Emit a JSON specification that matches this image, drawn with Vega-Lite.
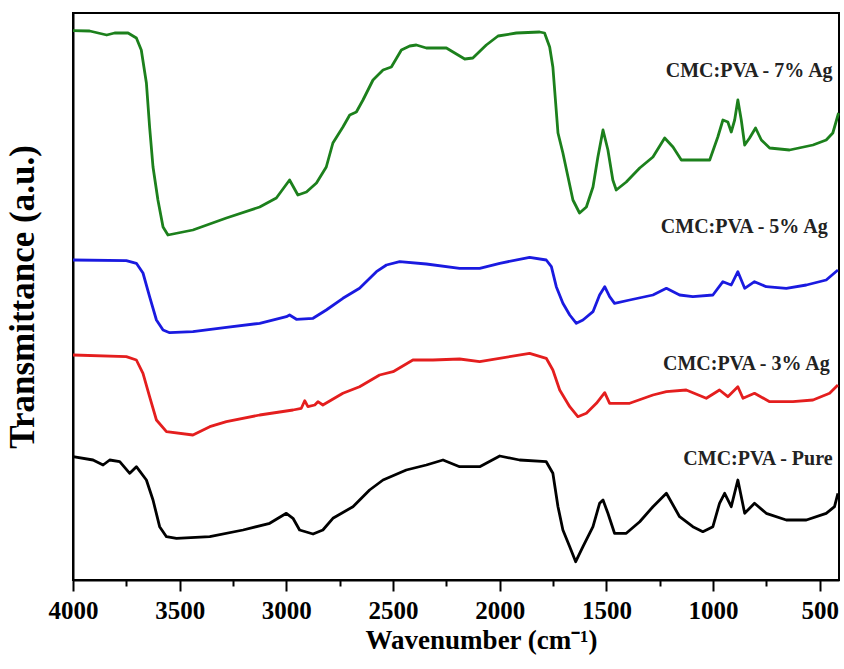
{
  "$schema": "https://vega.github.io/schema/vega-lite/v6.json",
  "autosize": "none",
  "width": 766,
  "height": 567,
  "padding": {"left": 73, "top": 13, "right": 5, "bottom": 89},
  "background": "white",
  "config": {
    "view": {"stroke": "black", "strokeWidth": 2},
    "font": "Liberation Serif"
  },
  "datasets": {
    "spectra": [
      {"s": "7% Ag", "wn": 4000, "t": 549.3}, {"s": "7% Ag", "wn": 3922, "t": 549}, {"s": "7% Ag", "wn": 3842, "t": 545}, {"s": "7% Ag", "wn": 3805, "t": 547}, {"s": "7% Ag", "wn": 3742, "t": 547}, {"s": "7% Ag", "wn": 3703, "t": 542}, {"s": "7% Ag", "wn": 3680, "t": 530}, {"s": "7% Ag", "wn": 3656, "t": 497}, {"s": "7% Ag", "wn": 3641, "t": 453}, {"s": "7% Ag", "wn": 3625, "t": 413}, {"s": "7% Ag", "wn": 3602, "t": 380}, {"s": "7% Ag", "wn": 3578, "t": 353}, {"s": "7% Ag", "wn": 3555, "t": 345}, {"s": "7% Ag", "wn": 3438, "t": 350}, {"s": "7% Ag", "wn": 3281, "t": 362}, {"s": "7% Ag", "wn": 3125, "t": 373}, {"s": "7% Ag", "wn": 3047, "t": 382}, {"s": "7% Ag", "wn": 2985, "t": 400}, {"s": "7% Ag", "wn": 2946, "t": 385}, {"s": "7% Ag", "wn": 2906, "t": 388}, {"s": "7% Ag", "wn": 2859, "t": 397}, {"s": "7% Ag", "wn": 2813, "t": 413}, {"s": "7% Ag", "wn": 2782, "t": 437}, {"s": "7% Ag", "wn": 2735, "t": 453}, {"s": "7% Ag", "wn": 2703, "t": 465}, {"s": "7% Ag", "wn": 2672, "t": 468}, {"s": "7% Ag", "wn": 2641, "t": 480}, {"s": "7% Ag", "wn": 2594, "t": 500}, {"s": "7% Ag", "wn": 2547, "t": 510}, {"s": "7% Ag", "wn": 2508, "t": 513}, {"s": "7% Ag", "wn": 2461, "t": 530}, {"s": "7% Ag", "wn": 2422, "t": 534}, {"s": "7% Ag", "wn": 2391, "t": 535}, {"s": "7% Ag", "wn": 2344, "t": 532}, {"s": "7% Ag", "wn": 2250, "t": 532}, {"s": "7% Ag", "wn": 2211, "t": 527}, {"s": "7% Ag", "wn": 2164, "t": 521}, {"s": "7% Ag", "wn": 2126, "t": 522}, {"s": "7% Ag", "wn": 2063, "t": 535}, {"s": "7% Ag", "wn": 2008, "t": 544}, {"s": "7% Ag", "wn": 1922, "t": 547}, {"s": "7% Ag", "wn": 1813, "t": 548}, {"s": "7% Ag", "wn": 1790, "t": 547}, {"s": "7% Ag", "wn": 1766, "t": 533}, {"s": "7% Ag", "wn": 1751, "t": 513}, {"s": "7% Ag", "wn": 1727, "t": 447}, {"s": "7% Ag", "wn": 1704, "t": 427}, {"s": "7% Ag", "wn": 1680, "t": 403}, {"s": "7% Ag", "wn": 1657, "t": 380}, {"s": "7% Ag", "wn": 1626, "t": 367}, {"s": "7% Ag", "wn": 1594, "t": 373}, {"s": "7% Ag", "wn": 1563, "t": 393}, {"s": "7% Ag", "wn": 1540, "t": 423}, {"s": "7% Ag", "wn": 1516, "t": 450}, {"s": "7% Ag", "wn": 1493, "t": 430}, {"s": "7% Ag", "wn": 1470, "t": 400}, {"s": "7% Ag", "wn": 1454, "t": 390}, {"s": "7% Ag", "wn": 1407, "t": 398}, {"s": "7% Ag", "wn": 1344, "t": 412}, {"s": "7% Ag", "wn": 1282, "t": 423}, {"s": "7% Ag", "wn": 1227, "t": 442}, {"s": "7% Ag", "wn": 1188, "t": 433}, {"s": "7% Ag", "wn": 1149, "t": 420}, {"s": "7% Ag", "wn": 1016, "t": 420}, {"s": "7% Ag", "wn": 978, "t": 443}, {"s": "7% Ag", "wn": 954, "t": 460}, {"s": "7% Ag", "wn": 931, "t": 458}, {"s": "7% Ag", "wn": 915, "t": 448}, {"s": "7% Ag", "wn": 899, "t": 460}, {"s": "7% Ag", "wn": 884, "t": 480}, {"s": "7% Ag", "wn": 868, "t": 460}, {"s": "7% Ag", "wn": 852, "t": 435}, {"s": "7% Ag", "wn": 829, "t": 442}, {"s": "7% Ag", "wn": 801, "t": 452}, {"s": "7% Ag", "wn": 774, "t": 440}, {"s": "7% Ag", "wn": 735, "t": 432}, {"s": "7% Ag", "wn": 642, "t": 430}, {"s": "7% Ag", "wn": 532, "t": 435}, {"s": "7% Ag", "wn": 470, "t": 440}, {"s": "7% Ag", "wn": 439, "t": 447}, {"s": "7% Ag", "wn": 412, "t": 467},

      {"s": "5% Ag", "wn": 4000, "t": 320}, {"s": "5% Ag", "wn": 3750, "t": 319.3}, {"s": "5% Ag", "wn": 3703, "t": 316.7}, {"s": "5% Ag", "wn": 3672, "t": 307}, {"s": "5% Ag", "wn": 3641, "t": 283.3}, {"s": "5% Ag", "wn": 3609, "t": 260}, {"s": "5% Ag", "wn": 3578, "t": 250}, {"s": "5% Ag", "wn": 3547, "t": 247.3}, {"s": "5% Ag", "wn": 3438, "t": 248.3}, {"s": "5% Ag", "wn": 3281, "t": 252.7}, {"s": "5% Ag", "wn": 3125, "t": 256.7}, {"s": "5% Ag", "wn": 3000, "t": 263.3}, {"s": "5% Ag", "wn": 2985, "t": 265}, {"s": "5% Ag", "wn": 2953, "t": 260.7}, {"s": "5% Ag", "wn": 2875, "t": 261.7}, {"s": "5% Ag", "wn": 2813, "t": 270}, {"s": "5% Ag", "wn": 2735, "t": 281.7}, {"s": "5% Ag", "wn": 2657, "t": 291.7}, {"s": "5% Ag", "wn": 2578, "t": 308.3}, {"s": "5% Ag", "wn": 2531, "t": 315}, {"s": "5% Ag", "wn": 2469, "t": 318.3}, {"s": "5% Ag", "wn": 2344, "t": 316}, {"s": "5% Ag", "wn": 2188, "t": 311.7}, {"s": "5% Ag", "wn": 2094, "t": 311.7}, {"s": "5% Ag", "wn": 2000, "t": 316.7}, {"s": "5% Ag", "wn": 1860, "t": 322.7}, {"s": "5% Ag", "wn": 1782, "t": 320}, {"s": "5% Ag", "wn": 1758, "t": 313.3}, {"s": "5% Ag", "wn": 1735, "t": 293.3}, {"s": "5% Ag", "wn": 1704, "t": 276.7}, {"s": "5% Ag", "wn": 1672, "t": 265}, {"s": "5% Ag", "wn": 1641, "t": 256.7}, {"s": "5% Ag", "wn": 1610, "t": 260}, {"s": "5% Ag", "wn": 1563, "t": 268.3}, {"s": "5% Ag", "wn": 1532, "t": 285}, {"s": "5% Ag", "wn": 1508, "t": 293.3}, {"s": "5% Ag", "wn": 1485, "t": 283.3}, {"s": "5% Ag", "wn": 1462, "t": 276.7}, {"s": "5% Ag", "wn": 1391, "t": 280}, {"s": "5% Ag", "wn": 1282, "t": 285}, {"s": "5% Ag", "wn": 1219, "t": 291.7}, {"s": "5% Ag", "wn": 1157, "t": 285}, {"s": "5% Ag", "wn": 1095, "t": 283.3}, {"s": "5% Ag", "wn": 1001, "t": 285}, {"s": "5% Ag", "wn": 954, "t": 298.3}, {"s": "5% Ag", "wn": 915, "t": 295}, {"s": "5% Ag", "wn": 884, "t": 308.3}, {"s": "5% Ag", "wn": 852, "t": 291.7}, {"s": "5% Ag", "wn": 806, "t": 298.3}, {"s": "5% Ag", "wn": 751, "t": 293.3}, {"s": "5% Ag", "wn": 657, "t": 291.7}, {"s": "5% Ag", "wn": 563, "t": 295}, {"s": "5% Ag", "wn": 470, "t": 300}, {"s": "5% Ag", "wn": 415, "t": 310},

      {"s": "3% Ag", "wn": 4000, "t": 225}, {"s": "3% Ag", "wn": 3750, "t": 223.3}, {"s": "3% Ag", "wn": 3703, "t": 220}, {"s": "3% Ag", "wn": 3672, "t": 206.7}, {"s": "3% Ag", "wn": 3641, "t": 183.3}, {"s": "3% Ag", "wn": 3609, "t": 160}, {"s": "3% Ag", "wn": 3562, "t": 148.3}, {"s": "3% Ag", "wn": 3438, "t": 145}, {"s": "3% Ag", "wn": 3359, "t": 153.3}, {"s": "3% Ag", "wn": 3281, "t": 158.3}, {"s": "3% Ag", "wn": 3125, "t": 165}, {"s": "3% Ag", "wn": 2969, "t": 170}, {"s": "3% Ag", "wn": 2930, "t": 171.7}, {"s": "3% Ag", "wn": 2914, "t": 179.3}, {"s": "3% Ag", "wn": 2899, "t": 173.3}, {"s": "3% Ag", "wn": 2867, "t": 175}, {"s": "3% Ag", "wn": 2852, "t": 178.3}, {"s": "3% Ag", "wn": 2829, "t": 175}, {"s": "3% Ag", "wn": 2735, "t": 186.7}, {"s": "3% Ag", "wn": 2657, "t": 193.3}, {"s": "3% Ag", "wn": 2563, "t": 205}, {"s": "3% Ag", "wn": 2500, "t": 208.3}, {"s": "3% Ag", "wn": 2407, "t": 220}, {"s": "3% Ag", "wn": 2313, "t": 220}, {"s": "3% Ag", "wn": 2188, "t": 221}, {"s": "3% Ag", "wn": 2094, "t": 218.3}, {"s": "3% Ag", "wn": 1860, "t": 226.7}, {"s": "3% Ag", "wn": 1782, "t": 221.7}, {"s": "3% Ag", "wn": 1751, "t": 210}, {"s": "3% Ag", "wn": 1719, "t": 190}, {"s": "3% Ag", "wn": 1672, "t": 173.3}, {"s": "3% Ag", "wn": 1634, "t": 163.3}, {"s": "3% Ag", "wn": 1594, "t": 166.7}, {"s": "3% Ag", "wn": 1547, "t": 176.7}, {"s": "3% Ag", "wn": 1508, "t": 187.3}, {"s": "3% Ag", "wn": 1485, "t": 176.7}, {"s": "3% Ag", "wn": 1391, "t": 176.7}, {"s": "3% Ag", "wn": 1282, "t": 185}, {"s": "3% Ag", "wn": 1219, "t": 188.3}, {"s": "3% Ag", "wn": 1126, "t": 190}, {"s": "3% Ag", "wn": 1032, "t": 181.7}, {"s": "3% Ag", "wn": 970, "t": 190}, {"s": "3% Ag", "wn": 931, "t": 183.3}, {"s": "3% Ag", "wn": 884, "t": 193.3}, {"s": "3% Ag", "wn": 860, "t": 181.7}, {"s": "3% Ag", "wn": 806, "t": 186.7}, {"s": "3% Ag", "wn": 735, "t": 178.3}, {"s": "3% Ag", "wn": 626, "t": 178.3}, {"s": "3% Ag", "wn": 532, "t": 180}, {"s": "3% Ag", "wn": 454, "t": 186.7}, {"s": "3% Ag", "wn": 415, "t": 195},

      {"s": "Pure", "wn": 4000, "t": 123.3}, {"s": "Pure", "wn": 3906, "t": 120}, {"s": "Pure", "wn": 3859, "t": 115}, {"s": "Pure", "wn": 3828, "t": 120}, {"s": "Pure", "wn": 3781, "t": 118.3}, {"s": "Pure", "wn": 3734, "t": 106.7}, {"s": "Pure", "wn": 3703, "t": 113.3}, {"s": "Pure", "wn": 3656, "t": 100}, {"s": "Pure", "wn": 3625, "t": 80}, {"s": "Pure", "wn": 3594, "t": 53.3}, {"s": "Pure", "wn": 3562, "t": 43.3}, {"s": "Pure", "wn": 3515, "t": 41.7}, {"s": "Pure", "wn": 3359, "t": 43.3}, {"s": "Pure", "wn": 3203, "t": 50}, {"s": "Pure", "wn": 3078, "t": 56.7}, {"s": "Pure", "wn": 3000, "t": 66.7}, {"s": "Pure", "wn": 2969, "t": 61.7}, {"s": "Pure", "wn": 2938, "t": 50}, {"s": "Pure", "wn": 2875, "t": 46}, {"s": "Pure", "wn": 2829, "t": 50}, {"s": "Pure", "wn": 2782, "t": 61.7}, {"s": "Pure", "wn": 2688, "t": 73.3}, {"s": "Pure", "wn": 2610, "t": 90}, {"s": "Pure", "wn": 2547, "t": 100}, {"s": "Pure", "wn": 2438, "t": 110}, {"s": "Pure", "wn": 2344, "t": 115}, {"s": "Pure", "wn": 2266, "t": 120}, {"s": "Pure", "wn": 2188, "t": 113.3}, {"s": "Pure", "wn": 2094, "t": 113.3}, {"s": "Pure", "wn": 2000, "t": 124}, {"s": "Pure", "wn": 1907, "t": 120}, {"s": "Pure", "wn": 1782, "t": 118.3}, {"s": "Pure", "wn": 1751, "t": 106.7}, {"s": "Pure", "wn": 1727, "t": 73.3}, {"s": "Pure", "wn": 1704, "t": 50}, {"s": "Pure", "wn": 1672, "t": 33.3}, {"s": "Pure", "wn": 1644, "t": 18.3}, {"s": "Pure", "wn": 1610, "t": 33.3}, {"s": "Pure", "wn": 1563, "t": 53.3}, {"s": "Pure", "wn": 1532, "t": 76.7}, {"s": "Pure", "wn": 1516, "t": 80}, {"s": "Pure", "wn": 1493, "t": 66.7}, {"s": "Pure", "wn": 1462, "t": 46.7}, {"s": "Pure", "wn": 1407, "t": 46.7}, {"s": "Pure", "wn": 1344, "t": 58.3}, {"s": "Pure", "wn": 1282, "t": 73.3}, {"s": "Pure", "wn": 1219, "t": 86.7}, {"s": "Pure", "wn": 1157, "t": 63.3}, {"s": "Pure", "wn": 1095, "t": 53.3}, {"s": "Pure", "wn": 1048, "t": 48.3}, {"s": "Pure", "wn": 1001, "t": 53.3}, {"s": "Pure", "wn": 970, "t": 76.7}, {"s": "Pure", "wn": 946, "t": 86.7}, {"s": "Pure", "wn": 915, "t": 73.3}, {"s": "Pure", "wn": 884, "t": 100}, {"s": "Pure", "wn": 852, "t": 66.7}, {"s": "Pure", "wn": 806, "t": 76.7}, {"s": "Pure", "wn": 751, "t": 66.7}, {"s": "Pure", "wn": 657, "t": 60}, {"s": "Pure", "wn": 563, "t": 60}, {"s": "Pure", "wn": 470, "t": 66.7}, {"s": "Pure", "wn": 431, "t": 73.3}, {"s": "Pure", "wn": 415, "t": 86.7}
    ],
    "labels": [
      {"label": "CMC:PVA - 7% Ag", "wn": 440, "t": 503},
      {"label": "CMC:PVA - 5% Ag", "wn": 463, "t": 347},
      {"label": "CMC:PVA - 3% Ag", "wn": 453, "t": 210},
      {"label": "CMC:PVA - Pure", "wn": 440, "t": 115}
    ]
  },
  "layer": [
    {
      "data": {"name": "spectra"},
      "mark": {"type": "line", "strokeWidth": 2.8, "strokeJoin": "round"},
      "encoding": {
        "x": {
          "field": "wn", "type": "quantitative",
          "scale": {"domain": [410, 4000], "reverse": true, "nice": false, "zero": false},
          "axis": {
            "values": [4000, 3750, 3500, 3250, 3000, 2750, 2500, 2250, 2000, 1750, 1500, 1250, 1000, 750, 500],
            "tickSize": {"condition": {"test": "datum.value % 500 === 0", "value": 11}, "value": 6},
            "labelExpr": "datum.value % 500 === 0 ? datum.label : ''",
            "format": "d",
            "grid": false,
            "tickColor": "black", "tickWidth": 2,
            "domainColor": "black", "domainWidth": 2,
            "labelFont": "Liberation Serif", "labelFontWeight": "bold", "labelFontSize": 25, "labelColor": "black",
            "labelPadding": 7, "labelFlush": false, "labelOverlap": false,
            "title": "Wavenumber (cm⁻¹)",
            "titleFont": "Liberation Serif", "titleFontWeight": "bold", "titleFontSize": 27, "titleColor": "black",
            "titleX": 408, "titleY": 68, "titleBaseline": "alphabetic"
          }
        },
        "y": {
          "field": "t", "type": "quantitative",
          "scale": {"domain": [0, 567], "nice": false, "zero": false},
          "axis": {
            "ticks": false, "labels": false, "grid": false,
            "domainColor": "black", "domainWidth": 2,
            "title": "Transmittance (a.u.)",
            "titleFont": "Liberation Serif", "titleFontWeight": "bold", "titleFontSize": 35, "titleColor": "black",
            "titlePadding": 33
          }
        },
        "color": {
          "field": "s", "type": "nominal", "legend": null,
          "scale": {"domain": ["7% Ag", "5% Ag", "3% Ag", "Pure"], "range": ["#1c801c", "#1a1ae0", "#e41e1e", "#000000"]}
        }
      }
    },
    {
      "data": {"name": "labels"},
      "mark": {"type": "text", "align": "right", "baseline": "alphabetic", "font": "Liberation Serif", "fontWeight": "bold", "fontSize": 20, "color": "#222222"},
      "encoding": {
        "x": {"field": "wn", "type": "quantitative"},
        "y": {"field": "t", "type": "quantitative"},
        "text": {"field": "label"}
      }
    }
  ]
}
